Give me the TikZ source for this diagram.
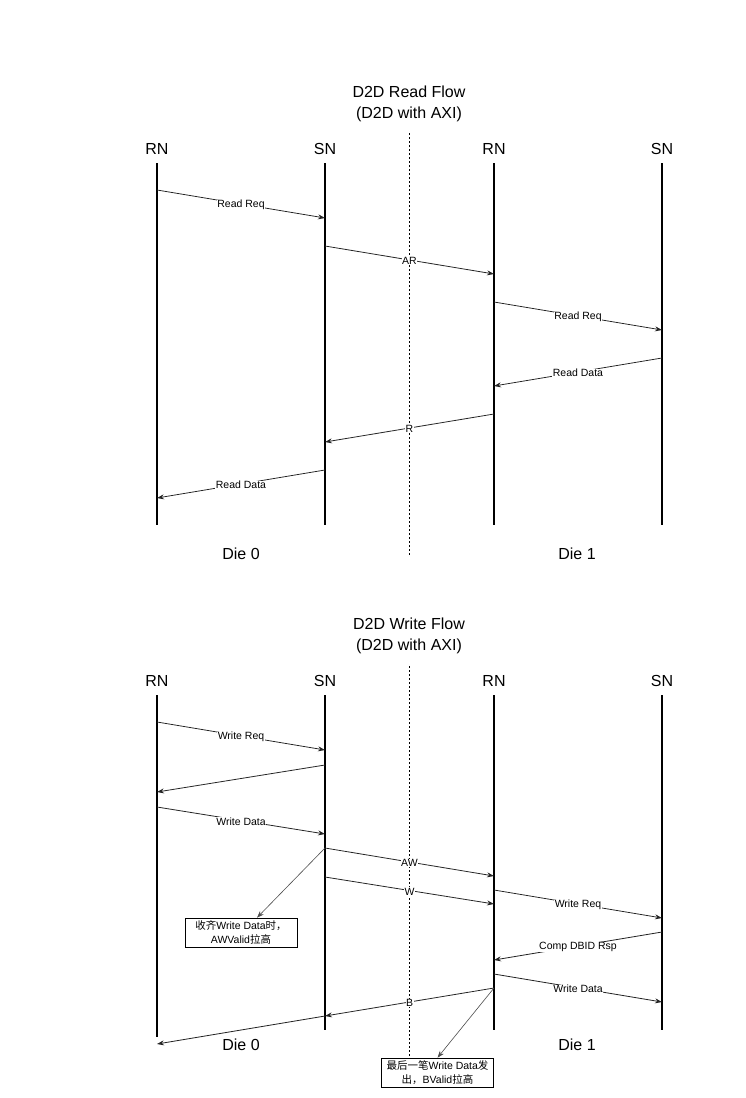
\documentclass[tikz,border=0pt]{standalone}
\usepackage{fontspec}
\setmainfont{Liberation Sans}
\newfontfamily\cjk{Noto Sans CJK SC}
\usetikzlibrary{arrows.meta,positioning}

\begin{document}
\begin{tikzpicture}[
  x=1pt, y=-1pt,
  head/.style={font=\fontsize{16}{21}\selectfont, inner sep=0pt, align=center},
  life/.style={line width=1.5pt},
  divider/.style={dash pattern=on 2pt off 2pt, line width=0.6pt},
  msg/.style={->, line width=0.8pt, draw=black!85},
  lbl/.style={font=\fontsize{10.5}{12}\selectfont, fill=white, inner sep=0.5pt, yshift=-1pt},
  note/.style={draw, line width=0.6pt, align=center, font=\fontsize{10.5}{14}\selectfont, inner sep=1pt, minimum width=112pt, minimum height=29pt},
  callout/.style={->, line width=0.6pt, draw=black!70},
  >={Stealth[length=7pt,width=5pt]}
]
\useasboundingbox (0,0) rectangle (746,1098);

% read flow
\node[head] (rtitle) at (409,104) {D2D Read Flow\\(D2D with AXI)};
\node[head] (rn0) at (157,149) {RN};
\node[head] (sn0) at (325,149) {SN};
\node[head] (rn1) at (494,149) {RN};
\node[head] (sn1) at (662,149) {SN};

\draw[life] ([yshift=-14pt]rn0.center) -- ([yshift=-376pt]rn0.center);
\draw[life] ([yshift=-14pt]sn0.center) -- ([yshift=-376pt]sn0.center);
\draw[life] ([yshift=-14pt]rn1.center) -- ([yshift=-376pt]rn1.center);
\draw[life] ([yshift=-14pt]sn1.center) -- ([yshift=-376pt]sn1.center);

\coordinate (rtop) at (409,133);
\coordinate (rbot) at (409,555);
\draw[divider] (rtop) -- (rbot);

\draw[msg] (rn0 |- 0,190) -- node[lbl] {Read Req} (sn0 |- 0,218);
\draw[msg] (sn0 |- 0,246) -- node[lbl] {AR} (rn1 |- 0,274);
\draw[msg] (rn1 |- 0,302) -- node[lbl] {Read Req} (sn1 |- 0,330);
\draw[msg] (sn1 |- 0,358) -- node[lbl] {Read Data} (rn1 |- 0,386);
\draw[msg] (rn1 |- 0,414) -- node[lbl] {R} (sn0 |- 0,442);
\draw[msg] (sn0 |- 0,470) -- node[lbl] {Read Data} (rn0 |- 0,498);

\node[head] (rdie0) at (241,554) {Die 0};
\node[head] (rdie1) at (577,554) {Die 1};

% write flow
\node[head] (wtitle) at (409,636) {D2D Write Flow\\(D2D with AXI)};
\node[head] (wrn0) at (157,681) {RN};
\node[head] (wsn0) at (325,681) {SN};
\node[head] (wrn1) at (494,681) {RN};
\node[head] (wsn1) at (662,681) {SN};

\draw[life] ([yshift=-14pt]wrn0.center) -- ([yshift=-356pt]wrn0.center);
\draw[life] ([yshift=-14pt]wsn0.center) -- ([yshift=-349pt]wsn0.center);
\draw[life] ([yshift=-14pt]wrn1.center) -- ([yshift=-349pt]wrn1.center);
\draw[life] ([yshift=-14pt]wsn1.center) -- ([yshift=-349pt]wsn1.center);

\node[note] (wnote0) at (241,932.5) {{\cjk 收齐}Write Data{\cjk 时，}\\AWValid{\cjk 拉高}};
\node[note] (wnote1) at (437.5,1072.5) {{\cjk 最后一笔}Write Data{\cjk 发}\\{\cjk 出，}BValid{\cjk 拉高}};

\coordinate (wtop) at (409,666);
\draw[divider] (wtop) -- (wtop |- wnote1.north);

\draw[msg] (wrn0 |- 0,722) -- node[lbl] {Write Req} (wsn0 |- 0,750);
\draw[msg] (wsn0 |- 0,765) -- (wrn0 |- 0,792);
\draw[msg] (wrn0 |- 0,807) -- node[lbl] {Write Data} (wsn0 |- 0,834);
\draw[msg] (wsn0 |- 0,848) -- node[lbl] {AW} (wrn1 |- 0,876);
\draw[msg] (wsn0 |- 0,877) -- node[lbl] {W} (wrn1 |- 0,904);
\draw[callout] (wsn0 |- 0,848) -- ([xshift=16pt]wnote0.north);
\draw[msg] (wrn1 |- 0,890) -- node[lbl] {Write Req} (wsn1 |- 0,918);
\draw[msg] (wsn1 |- 0,932) -- node[lbl] {Comp DBID Rsp} (wrn1 |- 0,960);
\draw[msg] (wrn1 |- 0,974) -- node[lbl] {Write Data} (wsn1 |- 0,1002);
\draw[msg] (wrn1 |- 0,988) -- node[lbl] {B} (wsn0 |- 0,1016);
\draw[msg] (wsn0 |- 0,1016) -- (wrn0 |- 0,1044);
\draw[callout] (wrn1 |- 0,988) -- (wnote1.north);

\node[head] (wdie0) at (241,1045) {Die 0};
\node[head] (wdie1) at (577,1045) {Die 1};
\end{tikzpicture}
\end{document}
